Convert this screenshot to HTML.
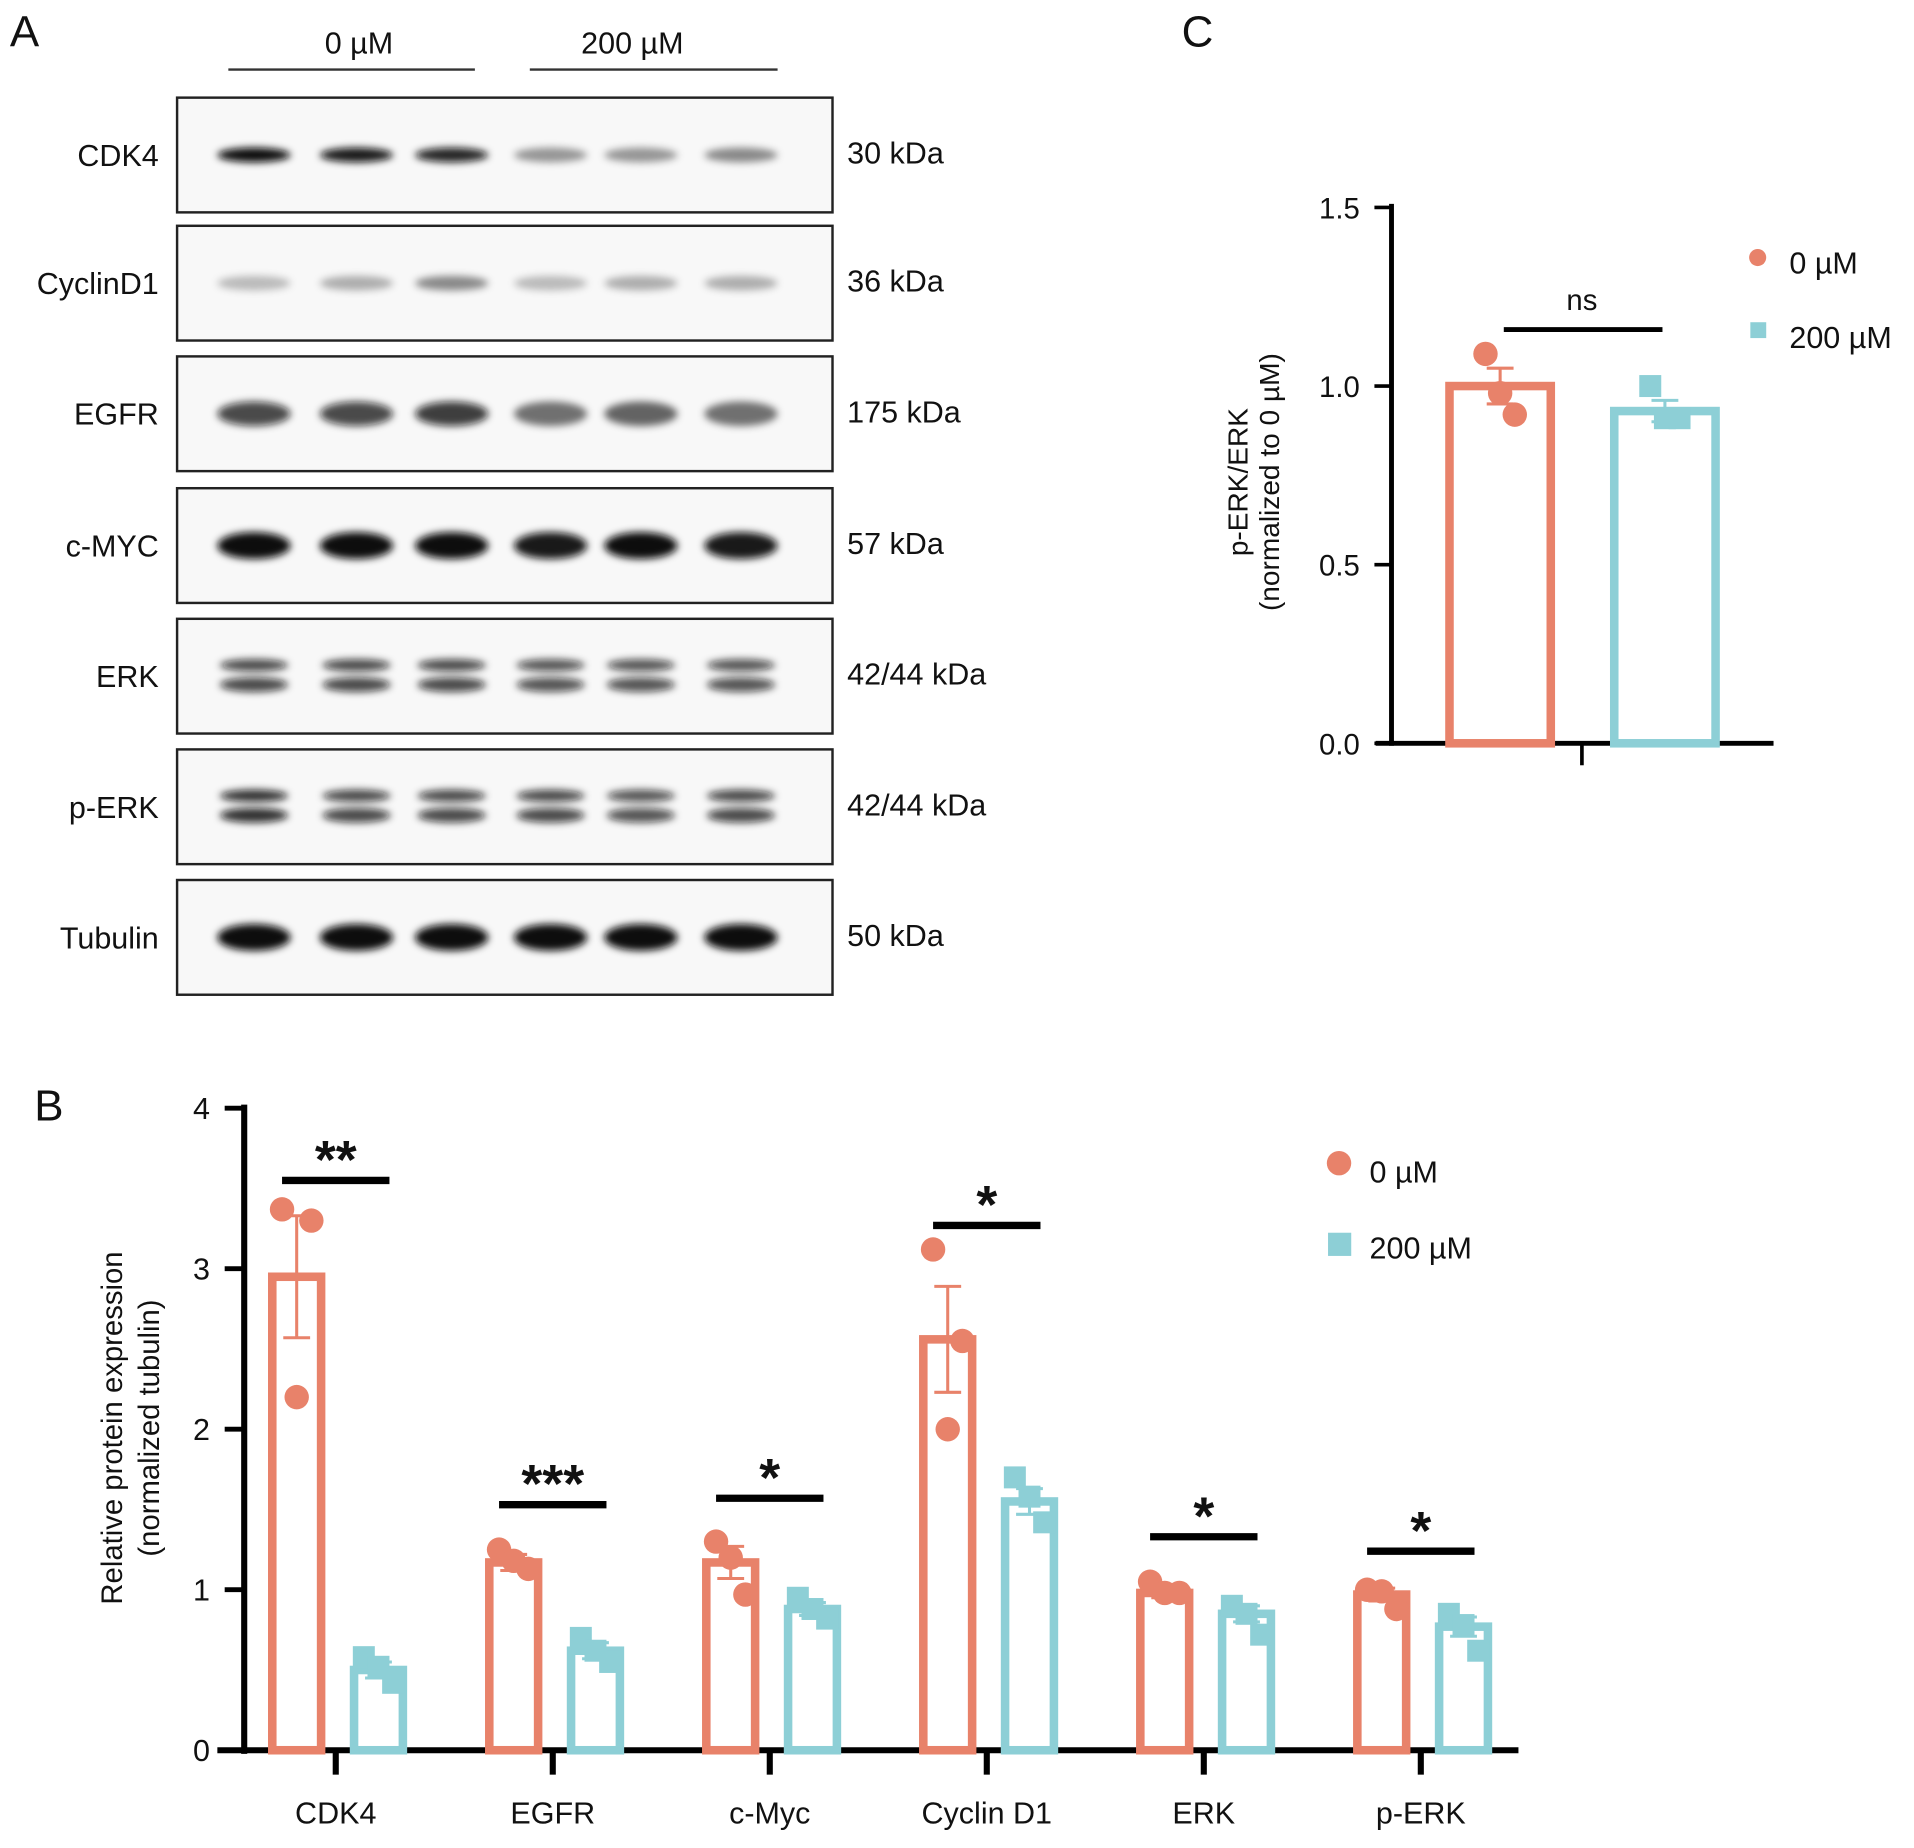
<!DOCTYPE html>
<html><head><meta charset="utf-8"><style>
html,body{margin:0;padding:0;background:#fff;}
svg text{font-family:"Liberation Sans",Arial,sans-serif;fill:#111;}
</style></head><body>
<svg id="fig" width="1914" height="1843" viewBox="0 0 1568 1510" xmlns="http://www.w3.org/2000/svg">
<defs><filter id="blur" x="-20%" y="-100%" width="140%" height="300%"><feGaussianBlur stdDeviation="3"/></filter></defs>
<text x="8" y="38" font-size="36">A</text>
<text x="968" y="38" font-size="36">C</text>
<text x="28" y="918" font-size="36">B</text>
<g id="blots"></g>
<g id="chartB"></g>
<g id="chartC"></g>
</svg>
<script>
const NS="http://www.w3.org/2000/svg";
function mk(p,t,a,txt){const e=document.createElementNS(NS,t);for(const k in a)e.setAttribute(k,a[k]);if(txt!=null)e.textContent=txt;p.appendChild(e);return e;}
const OR="#E8826A",TE="#8DCFD6";

// ---------- Panel A: blots ----------
const blotNames=["CDK4","CyclinD1","EGFR","c-MYC","ERK","p-ERK","Tubulin"];
const blotKda=["30 kDa","36 kDa","175 kDa","57 kDa","42/44 kDa","42/44 kDa","50 kDa"];
const blotIntensity=[[1,0.95,0.9,0.4,0.4,0.45],[0.25,0.3,0.45,0.25,0.3,0.3],[0.75,0.75,0.8,0.55,0.6,0.55],[1,1,1,0.95,1,0.95],[0.75,0.75,0.75,0.7,0.7,0.7],[0.85,0.75,0.75,0.75,0.7,0.75],[1,1,1,1,1,1]];
const blotTops=[80,185,292,400,507,614,721];
const lanes=[208,292,370,451,525,607];
const B=document.getElementById('blots');
mk(B,'line',{x1:187,y1:57,x2:389,y2:57,stroke:'#333','stroke-width':2});
mk(B,'line',{x1:434,y1:57,x2:637,y2:57,stroke:'#333','stroke-width':2});
mk(B,'text',{x:294,y:44,'font-size':25,'text-anchor':'middle'},'0 µM');
mk(B,'text',{x:518,y:44,'font-size':25,'text-anchor':'middle'},'200 µM');
blotNames.forEach((n,i)=>{
  const t=blotTops[i],h=94,cy=t+h/2;
  const g=mk(B,'g',{});
  
  
  mk(g,'rect',{x:145,y:t,width:537,height:h,fill:'#f8f8f8',stroke:'#222','stroke-width':2});
  lanes.forEach((x,j)=>{
    const v=blotIntensity[i][j];
    const c='rgba(10,10,10,'+v+')';
    if(n==="ERK"||n==="p-ERK"){
      mk(g,'ellipse',{cx:x,cy:cy-9,rx:28,ry:5,fill:c,filter:'url(#blur)'});
      mk(g,'ellipse',{cx:x,cy:cy+7,rx:28,ry:6,fill:c,filter:'url(#blur)'});
    } else {
      const ry=n==="c-MYC"||n==="Tubulin"?11:(n==="EGFR"?10:6);
      mk(g,'ellipse',{cx:x,cy:cy,rx:30,ry:ry,fill:c,filter:'url(#blur)'});
    }
  });
  const l=mk(B,'text',{x:130,y:cy+9,'font-size':25,'text-anchor':'end'},n);
  
  const k=mk(B,'text',{x:694,y:cy+7,'font-size':25},blotKda[i]);
  
});

// ---------- Panel B ----------
const bCats=["CDK4","EGFR","c-Myc","Cyclin D1","ERK","p-ERK"];
const bCtrl=[2.95,1.17,1.17,2.56,0.98,0.97];
const bTreat=[0.5,0.62,0.88,1.55,0.85,0.77];
const bCtrlErr=[0.38,0.05,0.1,0.33,0.03,0.04];
const bTreatErr=[0.05,0.05,0.04,0.08,0.05,0.06];
const bCtrlPts=[[3.37,3.3,2.2],[1.25,1.13,1.18],[1.3,0.97,1.2],[3.12,2.55,2.0],[1.05,0.98,0.98],[1.0,0.88,0.99]];
const bTreatPts=[[0.58,0.42,0.52],[0.7,0.55,0.62],[0.95,0.82,0.88],[1.7,1.42,1.58],[0.9,0.72,0.85],[0.85,0.62,0.78]];
const bSigY=[3.55,1.53,1.57,3.27,1.33,1.24];
const bSigTxt=["**","***","*","*","*","*"];
const bTicks=[0,1,2,3,4];
const Bg=document.getElementById('chartB');
const byS=v=>1434-v*131.5;
const bxS=i=>275+i*177.8;
mk(Bg,'line',{x1:200,y1:905,x2:200,y2:1437,stroke:'#000','stroke-width':5});
mk(Bg,'line',{x1:178,y1:1434,x2:1244,y2:1434,stroke:'#000','stroke-width':5});
bTicks.forEach(t=>{
  mk(Bg,'line',{x1:184,y1:byS(t),x2:200,y2:byS(t),stroke:'#000','stroke-width':4});
  const e=mk(Bg,'text',{x:172,y:byS(t)+9,'font-size':25,'text-anchor':'end'},t);
  
});
const yt=mk(Bg,'text',{transform:'translate(100,1170) rotate(-90)','font-size':24,'text-anchor':'middle'},'Relative protein expression');

mk(Bg,'text',{transform:'translate(130,1170) rotate(-90)','font-size':24,'text-anchor':'middle'},'(normalized tubulin)');
function barGroup(p,cx,v,err,pts,col,sq,yS,w,y0){
  const bw=w;
  mk(p,'rect',{x:cx-bw/2,y:yS(v),width:bw,height:y0-yS(v),fill:'none',stroke:col,'stroke-width':7});
  mk(p,'line',{x1:cx,y1:yS(v+err),x2:cx,y2:yS(v-err),stroke:col,'stroke-width':2.5});
  [v+err,v-err].forEach(e=>mk(p,'line',{x1:cx-11,y1:yS(e),x2:cx+11,y2:yS(e),stroke:col,'stroke-width':2.5}));
  const off=[-12,12,0];
  pts.forEach((pv,k)=>{
    let m;
    if(sq) m=mk(p,'rect',{x:cx+off[k]-9,y:yS(pv)-9,width:18,height:18,fill:col});
    else m=mk(p,'circle',{cx:cx+off[k],cy:yS(pv),r:10,fill:col});
    
  });
}
bCats.forEach((c,i)=>{
  const cx=bxS(i);
  const g=mk(Bg,'g',{});
  
  
  barGroup(g,cx-32,bCtrl[i],bCtrlErr[i],bCtrlPts[i],OR,false,byS,40,1434);
  barGroup(g,cx+35,bTreat[i],bTreatErr[i],bTreatPts[i],TE,true,byS,40,1434);
  mk(Bg,'line',{x1:cx,y1:1434,x2:cx,y2:1454,stroke:'#000','stroke-width':5});
  mk(Bg,'text',{x:cx,y:1494,'font-size':25,'text-anchor':'middle'},c);
  const sy=byS(bSigY[i]);
  mk(Bg,'line',{x1:cx-44,y1:sy,x2:cx+44,y2:sy,stroke:'#000','stroke-width':6});
  mk(Bg,'text',{x:cx,y:sy-2,'font-size':44,'font-weight':'bold','text-anchor':'middle'},bSigTxt[i]);
});
mk(Bg,'circle',{cx:1097,cy:953,r:10,fill:OR});
mk(Bg,'text',{x:1122,y:969,'font-size':25},'0 µM');
mk(Bg,'rect',{x:1088,y:1010,width:19,height:19,fill:TE});
mk(Bg,'text',{x:1122,y:1031,'font-size':25},'200 µM');

// ---------- Panel C ----------
const cVals=[1.0,0.93];
const cErr=[0.05,0.03];
const cPts=[[1.09,0.92,0.98],[1.0,0.91,0.91]];
const cTicks=[0,0.5,1.0,1.5];
const Cg=document.getElementById('chartC');
const cyS=v=>609-v*292.7;
mk(Cg,'line',{x1:1140,y1:167,x2:1140,y2:611,stroke:'#000','stroke-width':4});
mk(Cg,'line',{x1:1127,y1:609,x2:1453,y2:609,stroke:'#000','stroke-width':4});
cTicks.forEach(t=>{
  mk(Cg,'line',{x1:1126,y1:cyS(t),x2:1140,y2:cyS(t),stroke:'#000','stroke-width':3});
  mk(Cg,'text',{x:1114,y:cyS(t)+9,'font-size':24,'text-anchor':'end'},t.toFixed(1));
});
mk(Cg,'line',{x1:1296,y1:609,x2:1296,y2:627,stroke:'#000','stroke-width':3});
mk(Cg,'text',{transform:'translate(1022,395) rotate(-90)','font-size':23,'text-anchor':'middle'},'p-ERK/ERK');
mk(Cg,'text',{transform:'translate(1048,395) rotate(-90)','font-size':23,'text-anchor':'middle'},'(normalized to 0 µM)');
const cX=[1229,1364];
[0,1].forEach(i=>{
  const g=mk(Cg,'g',{});
  
  
  barGroup(g,cX[i],cVals[i],cErr[i],cPts[i],i?TE:OR,i==1,cyS,83,609);
});
mk(Cg,'line',{x1:1232,y1:270,x2:1362,y2:270,stroke:'#000','stroke-width':4});
mk(Cg,'text',{x:1296,y:254,'font-size':24,'text-anchor':'middle'},'ns');
mk(Cg,'circle',{cx:1440,cy:211,r:7,fill:OR});
mk(Cg,'text',{x:1466,y:224,'font-size':25},'0 µM');
mk(Cg,'rect',{x:1434,y:264,width:13,height:13,fill:TE});
mk(Cg,'text',{x:1466,y:285,'font-size':25},'200 µM');
</script>
</body></html>
